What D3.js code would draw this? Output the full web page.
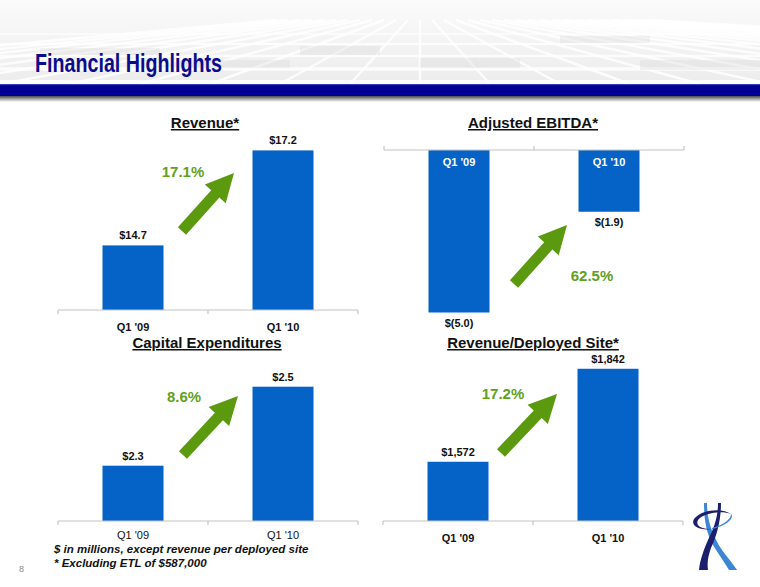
<!DOCTYPE html>
<html>
<head>
<meta charset="utf-8">
<script src="https://cdn.jsdelivr.net/npm/d3@7"></script>
<style>
  body { margin: 0; background: #fff; }
  svg { display: block; font-family: "Liberation Sans", Arial, sans-serif; }
</style>
</head>
<body>
<svg width="760" height="587"></svg>
<script>
// ---------------------------------------------------------------------
// Values
// ---------------------------------------------------------------------
const categories    = ["Q1 '09", "Q1 '10"];
const revenueValues = [14.7, 17.2];
const ebitdaValues  = [-5.0, -1.9];
const capexValues   = [2.3, 2.5];
const revSiteValues = [1572, 1842];
const growthLabels  = ["17.1%", "62.5%", "8.6%", "17.2%"];
const chartTitles   = ["Revenue*", "Adjusted EBITDA*", "Capital Expenditures", "Revenue/Deployed Site*"];
const footnotes     = ["$ in millions, except revenue per deployed site", "* Excluding ETL of $587,000"];

const BAR_BLUE  = "#0563c8",
      GREEN     = "#5b9a0f",
      AXIS_GREY = "#c4c4c4";

let svg  = d3.select("svg"),
    defs = svg.append("defs");

// ---------------------------------------------------------------------
// Header: light grey backdrop with a faint grid, title and blue band
// ---------------------------------------------------------------------
let hg = defs.append("linearGradient").attr("id", "hdr").attr("x1", 0).attr("y1", 0).attr("x2", 0).attr("y2", 1);
hg.append("stop").attr("offset", "0%").attr("stop-color", "#fbfbfb");
hg.append("stop").attr("offset", "100%").attr("stop-color", "#ececec");
let sg = defs.append("linearGradient").attr("id", "shadow").attr("x1", 0).attr("y1", 0).attr("x2", 0).attr("y2", 1);
sg.append("stop").attr("offset", "0%").attr("stop-color", "#4a4a4a");
sg.append("stop").attr("offset", "100%").attr("stop-color", "#ffffff");

svg.append("rect").attr("width", 760).attr("height", 84).attr("fill", "url(#hdr)");

// perspective grid (decoration only)
let grid = svg.append("g").attr("stroke", "#ffffff").attr("stroke-opacity", 0.8).attr("fill", "none");
[34, 44, 56, 69, 82].forEach((y, i) => {
  grid.append("line").attr("x1", 0).attr("x2", 760).attr("y1", y).attr("y2", y)
    .attr("stroke-width", 1.5 + i * 0.6);
});
d3.range(-12, 20).forEach(i => {
  grid.append("line").attr("x1", 420 + i * 12).attr("y1", 20)
    .attr("x2", 420 + i * 70).attr("y2", 84).attr("stroke-width", 2.5);
});
let tiles = svg.append("g").attr("fill", "#d9d9d9").attr("fill-opacity", 0.35);
[[300, 46, 80, 9], [420, 58, 100, 10], [560, 36, 90, 7], [180, 60, 110, 8], [640, 60, 120, 10], [40, 48, 120, 7]]
  .forEach(t => tiles.append("rect").attr("x", t[0]).attr("y", t[1]).attr("width", t[2]).attr("height", t[3]));

svg.append("text")
  .attr("x", 35).attr("y", 72)
  .attr("font-size", 26).attr("font-weight", "bold")
  .attr("fill", "#0b0b8c")
  .attr("textLength", 187).attr("lengthAdjust", "spacingAndGlyphs")
  .text("Financial Highlights");

svg.append("rect").attr("x", 0).attr("y", 84).attr("width", 760).attr("height", 12).attr("fill", "#000092");
svg.append("rect").attr("x", 0).attr("y", 84).attr("width", 760).attr("height", 1.2).attr("fill", "#3a3ab0");
svg.append("rect").attr("x", 0).attr("y", 96).attr("width", 760).attr("height", 6).attr("fill", "url(#shadow)");

// ---------------------------------------------------------------------
// The four small bar charts
// ---------------------------------------------------------------------
let panels = [
  { title: chartTitles[0], values: revenueValues, fmt: d => "$" + d.toFixed(1),
    x0: 58, x1: 358, axisY: 310, base: 13, domain: [13, 18], rangeTop: 120,
    titleX: 205, titleY: 128, growth: growthLabels[0], catDy: 21, catWeight: "bold",
    arrow: [[182, 231], [234, 173]], pct: [183, 177] },
  { title: chartTitles[1], values: ebitdaValues, fmt: d => "$(" + Math.abs(d).toFixed(1) + ")",
    x0: 384, x1: 684, axisY: 150, base: 0, domain: [0, -6], rangeTop: 345,
    titleX: 533, titleY: 128, growth: growthLabels[1], negative: true, catDy: 16, catWeight: "bold",
    arrow: [[514, 284], [567, 225]], pct: [592, 281] },
  { title: chartTitles[2], values: capexValues, fmt: d => "$" + d.toFixed(1),
    x0: 58, x1: 358, axisY: 521, base: 2.16, domain: [2.16, 2.6], rangeTop: 347.2,
    titleX: 207, titleY: 348, growth: growthLabels[2], catDy: 18, catWeight: "normal",
    arrow: [[183, 455], [238, 396]], pct: [184, 402] },
  { title: chartTitles[3], values: revSiteValues, fmt: d3.format("$,"),
    x0: 383, x1: 683, axisY: 521, base: 1400, domain: [1400, 1900], rangeTop: 348.8,
    titleX: 533, titleY: 348, growth: growthLabels[3], catDy: 21, catWeight: "bold",
    arrow: [[501, 453], [557, 394]], pct: [503, 399] }
];

panels.forEach(drawPanel);

function drawPanel(p) {
  let g  = svg.append("g"),
      x  = d3.scaleBand().domain(categories).range([p.x0, p.x1]).padding(0),
      y  = d3.scaleLinear().domain(p.domain).range([p.axisY, p.rangeTop]),
      bw = 61,
      tickDir = p.negative ? -4 : 4;

  // title, underlined
  g.append("text")
    .attr("x", p.titleX).attr("y", p.titleY)
    .attr("text-anchor", "middle")
    .attr("font-size", 15).attr("font-weight", "bold")
    .attr("fill", "#111")
    .style("text-decoration", "underline")
    .text(p.title);

  // bars
  g.selectAll(".bar")
    .data(p.values)
    .enter().append("rect")
      .attr("class", "bar")
      .attr("x", (d, i) => x(categories[i]) + (x.bandwidth() - bw) / 2)
      .attr("width", bw)
      .attr("y", d => Math.min(y(p.base), y(d)))
      .attr("height", d => Math.abs(y(d) - y(p.base)))
      .attr("fill", BAR_BLUE);

  // axis line with ticks at band boundaries
  let tickXs = [p.x0].concat(categories.slice(1).map(c => x(c)), [p.x1]);
  g.append("line")
    .attr("x1", p.x0).attr("x2", p.x1)
    .attr("y1", p.axisY).attr("y2", p.axisY)
    .attr("stroke", AXIS_GREY).attr("stroke-width", 1.2);
  g.selectAll(".tick")
    .data(tickXs)
    .enter().append("line")
      .attr("x1", d => d).attr("x2", d => d)
      .attr("y1", p.axisY).attr("y2", p.axisY + tickDir)
      .attr("stroke", AXIS_GREY).attr("stroke-width", 1.2);

  // category labels
  g.selectAll(".cat")
    .data(categories)
    .enter().append("text")
      .attr("x", d => x(d) + x.bandwidth() / 2)
      .attr("y", p.axisY + p.catDy)
      .attr("text-anchor", "middle")
      .attr("font-size", 11).attr("font-weight", p.catWeight)
      .attr("fill", p.negative ? "#fff" : "#111")
      .text(d => d);

  // value labels
  g.selectAll(".val")
    .data(p.values)
    .enter().append("text")
      .attr("x", (d, i) => x(categories[i]) + x.bandwidth() / 2)
      .attr("y", d => p.negative ? y(d) + 14 : y(d) - 6)
      .attr("text-anchor", "middle")
      .attr("font-size", 11).attr("font-weight", "bold")
      .attr("fill", "#111")
      .text(p.fmt);

  // growth arrow
  let a  = p.arrow,
      dx = a[1][0] - a[0][0],
      dy = a[1][1] - a[0][1],
      L  = Math.sqrt(dx * dx + dy * dy),
      ang = Math.atan2(dy, dx) * 180 / Math.PI,
      sw = 5.5, hw = 14, hl = 28;
  g.append("path")
    .attr("d", `M0,${-sw} L${L - hl},${-sw} L${L - hl},${-hw} L${L},0 L${L - hl},${hw} L${L - hl},${sw} L0,${sw} Z`)
    .attr("transform", `translate(${a[0][0]},${a[0][1]}) rotate(${ang})`)
    .attr("fill", GREEN);

  g.append("text")
    .attr("x", p.pct[0]).attr("y", p.pct[1])
    .attr("text-anchor", "middle")
    .attr("font-size", 15).attr("font-weight", "bold")
    .attr("fill", "#62a01c")
    .text(p.growth);
}

// ---------------------------------------------------------------------
// Footnotes, page number and logo
// ---------------------------------------------------------------------
svg.selectAll(".foot")
  .data(footnotes)
  .enter().append("text")
    .attr("x", 54).attr("y", (d, i) => 553 + i * 14)
    .attr("font-size", 11.5).attr("font-weight", "bold").attr("font-style", "italic")
    .attr("fill", "#111")
    .text(d => d);

svg.append("text")
  .attr("x", 19).attr("y", 572)
  .attr("font-size", 9).attr("fill", "#8a8a8a")
  .text("8");

let logo = svg.append("g");
// light strand: top-left down to bottom-right
logo.append("path")
  .attr("d", "M704,503 L707,503 C707,520 712,535 722,550 C728,558 733,564 737,570 L729,570 C724,562 718,553 713,545 C706,533 704,518 704,503 Z")
  .attr("fill", "#3c86d4");
// dark strand: top-right down to bottom-left
logo.append("path")
  .attr("d", "M718,503 L721,503 C721,520 717,535 711,548 C708,556 707,563 708,570 L699,570 C700,560 704,549 708,540 C714,528 718,517 718,503 Z")
  .attr("fill", "#1c1f6e");
// swirl ring round the top
logo.append("path")
  .attr("d", "M731,514 C722,507 700,510 694,519 C690,526 700,531 712,529 C702,529 695,526 698,520 C703,513 722,510 731,514 Z")
  .attr("fill", "#1c1f6e");
logo.append("path")
  .attr("d", "M731,514 C735,518 726,526 712,529 L712,528 C724,525 731,519 731,514 Z")
  .attr("fill", "#3c86d4");
</script>
</body>
</html>
